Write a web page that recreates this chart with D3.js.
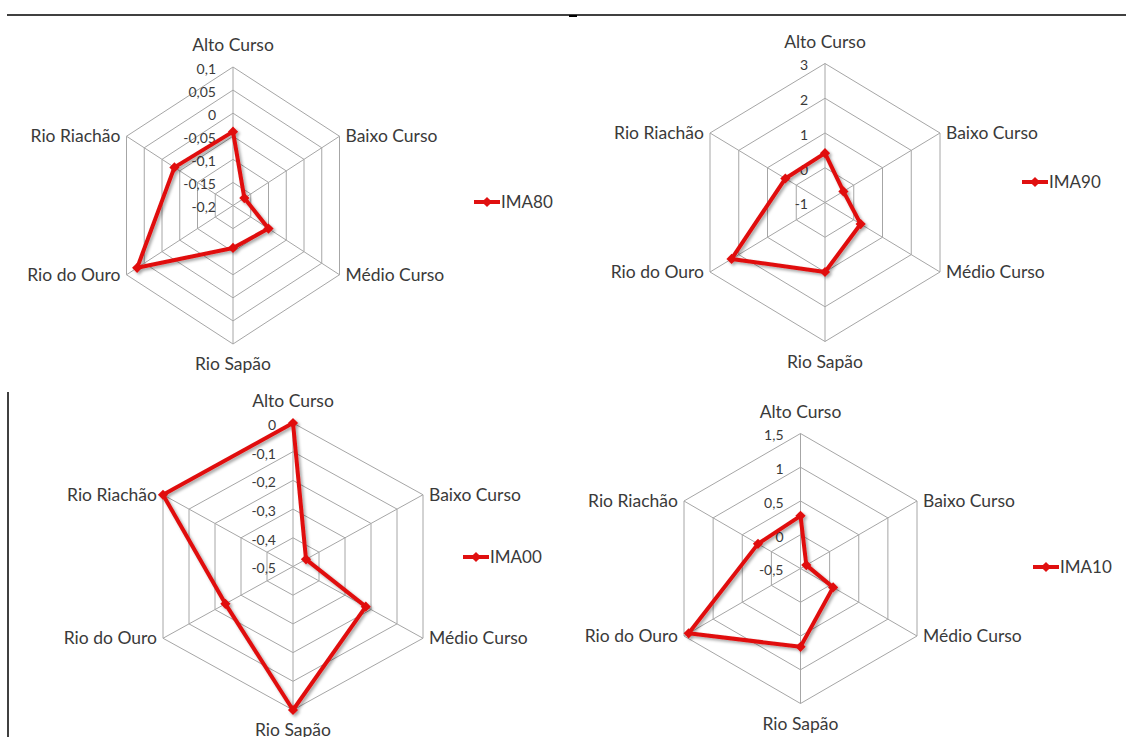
<!DOCTYPE html>
<html>
<head>
<meta charset="utf-8">
<script src="https://cdn.jsdelivr.net/npm/d3@7"></script>
<style>
body{margin:0;background:#fff;}
text{font-family:Lato,"Open Sans",sans-serif;fill:#3a3a3a;}
</style>
</head>
<body>
<svg id="chart" width="1126" height="737"></svg>
<script>
// eixos e séries
var categories=["Alto Curso","Baixo Curso","Médio Curso","Rio Sapão","Rio do Ouro","Rio Riachão"];
var ima80=[-0.04,-0.168,-0.1,-0.108,0.07,-0.035];
var ima90=[0.42,-0.36,0.24,1.0,2.25,0.38];
var ima00=[0,-0.45,-0.22,0,-0.24,0];
var ima10=[0.28,-0.4,0.06,0.66,1.42,0.23];
var ticks80=[-0.2,-0.15,-0.1,-0.05,0,0.05,0.1];
var ticks90=[-1,0,1,2,3];
var ticks00=[-0.5,-0.4,-0.3,-0.2,-0.1,0];
var ticks10=[-0.5,0,0.5,1,1.5];
var seriesNames=["IMA80","IMA90","IMA00","IMA10"];

var svg=d3.select("#chart");
var red="#e01010";
var fmt=d3.formatLocale({decimal:",",thousands:".",grouping:[3],currency:["",""],minus:"-"}).format("~g");

var defs=svg.append("defs");
var shadow=defs.append("filter").attr("id","shadow").attr("x","-10%").attr("y","-10%").attr("width","130%").attr("height","130%");
shadow.append("feDropShadow").attr("dx",2).attr("dy",2).attr("stdDeviation",1.5)
	.attr("flood-color","#000").attr("flood-opacity",0.35);

// molduras da página
svg.append("line").attr("x1",7).attr("x2",1126).attr("y1",15).attr("y2",15)
	.attr("stroke","#000").attr("stroke-width",1.5);
svg.append("rect").attr("x",569).attr("y",15).attr("width",8).attr("height",2).attr("fill","#000");
svg.append("line").attr("x1",8).attr("x2",8).attr("y1",392).attr("y2",737)
	.attr("stroke","#000").attr("stroke-width",1.5);

var panels=[
	{name:seriesNames[0],values:ima80,ticks:ticks80,cx:233,cy:205.5,ry:138.5,hw:106.5,lx:474,ly:202},
	{name:seriesNames[1],values:ima90,ticks:ticks90,cx:825,cy:202.5,ry:139,hw:115,lx:1022,ly:182},
	{name:seriesNames[2],values:ima00,ticks:ticks00,cx:293,cy:566.5,ry:143.5,hw:130,lx:463,ly:557},
	{name:seriesNames[3],values:ima10,ticks:ticks10,cx:800.5,cy:568.5,ry:135,hw:116.5,lx:1033,ly:567}
];

var diamond=d3.symbol().type(d3.symbolSquare).size(52);

panels.forEach(function(p){
	var g=svg.append("g");
	var r=d3.scaleLinear().domain([d3.min(p.ticks),d3.max(p.ticks)]).range([0,1]);
	var sin60=Math.sin(Math.PI/3);
	function pt(i,v){
		var a=i*Math.PI/3;
		var f=r(v);
		return [p.cx+f*p.hw*Math.sin(a)/sin60, p.cy-f*p.ry*Math.cos(a)];
	}
	var line=d3.line();

	// anéis
	g.selectAll("path.ring").data(p.ticks.slice(1)).enter().append("path")
		.attr("class","ring")
		.attr("d",function(t){ return line(categories.map(function(c,i){ return pt(i,t); }))+"Z"; })
		.attr("fill","none").attr("stroke","#a6a6a6").attr("stroke-width",1);
	// raios
	g.selectAll("line.spoke").data(categories).enter().append("line")
		.attr("class","spoke")
		.attr("x1",p.cx).attr("y1",p.cy)
		.attr("x2",function(c,i){ return pt(i,d3.max(p.ticks))[0]; })
		.attr("y2",function(c,i){ return pt(i,d3.max(p.ticks))[1]; })
		.attr("stroke","#a6a6a6").attr("stroke-width",1);

	// rótulos de escala
	g.selectAll("text.tick").data(p.ticks).enter().append("text")
		.attr("class","tick")
		.attr("x",p.cx-17)
		.attr("y",function(t){ return pt(0,t)[1]+2; })
		.attr("dy","0.35em")
		.attr("text-anchor","end")
		.style("font-size","14px")
		.text(function(t){ return fmt(t); });

	// rótulos das categorias
	g.selectAll("text.cat").data(categories).enter().append("text")
		.attr("class","cat")
		.attr("x",function(c,i){
			var v=pt(i,d3.max(p.ticks));
			if(i==0||i==3) return v[0];
			return i<3 ? v[0]+6 : v[0]-6;
		})
		.attr("y",function(c,i){
			var v=pt(i,d3.max(p.ticks));
			if(i==0) return v[1]-22;
			if(i==3) return v[1]+20;
			return v[1];
		})
		.attr("dy","0.35em")
		.attr("text-anchor",function(c,i){ return (i==0||i==3)?"middle":(i<3?"start":"end"); })
		.style("font-size","17.5px")
		.text(function(c){ return c; });

	// série
	var sg=g.append("g").attr("filter","url(#shadow)");
	sg.append("path")
		.attr("d",line(p.values.map(function(v,i){ return pt(i,v); }))+"Z")
		.attr("fill","none").attr("stroke",red).attr("stroke-width",4).attr("stroke-linejoin","round");
	sg.selectAll("path.mk").data(p.values).enter().append("path")
		.attr("class","mk")
		.attr("d",diamond)
		.attr("transform",function(v,i){ var q=pt(i,v); return "translate("+q[0]+","+q[1]+") rotate(45)"; })
		.attr("fill",red);

	// legenda
	var lg=svg.append("g").attr("transform","translate("+p.lx+","+p.ly+")");
	lg.append("line").attr("x1",0).attr("x2",26).attr("y1",0).attr("y2",0)
		.attr("stroke",red).attr("stroke-width",4);
	lg.append("path").attr("d",diamond).attr("transform","translate(13,0) rotate(45)").attr("fill",red);
	lg.append("text").attr("x",27).attr("y",0).attr("dy","0.35em")
		.style("font-size","17px").text(p.name);
});
</script>
</body>
</html>
